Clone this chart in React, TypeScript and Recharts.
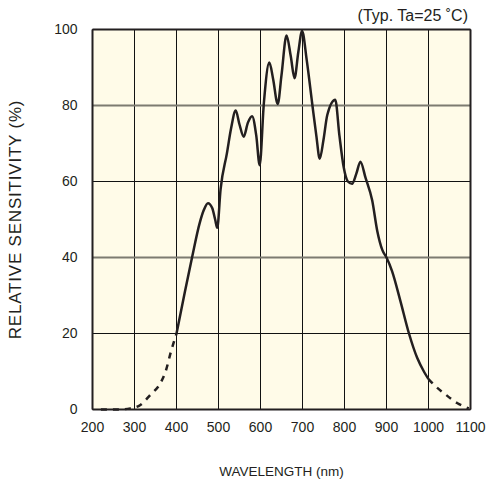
import { LineChart, Line, XAxis, YAxis, CartesianGrid, ReferenceLine } from 'recharts';

// wavelength (nm) and relative sensitivity (%)
const leftTailNm = [220, 260, 290, 314, 338, 362, 374, 387, 400];
const leftTailPct = [0, 0, 0.3, 1.2, 3.9, 7, 10, 15.3, 20];

const measuredNm = [
  400, 420, 437, 455, 465, 475, 485, 492, 497, 505, 520, 530, 541, 550, 560, 570, 580, 590, 598,
  608, 621, 630, 641, 650, 662, 672, 681, 690, 699, 710, 723, 733, 741, 750, 759, 778, 788, 798,
  808, 818, 828, 838, 850, 866, 878, 890, 900, 913, 933, 953, 973, 990, 1000,
];
const measuredPct = [
  20, 31, 40, 49, 52.5, 54.3, 53, 50, 47.8, 58, 67.4, 74, 78.7, 75, 71.8, 75.5, 77.2, 72, 64.3,
  80.6, 91.3, 87, 80.4, 88, 98.4, 93, 87.2, 94, 99.6, 92, 80.6, 72, 66, 71, 77.5, 81.5, 72, 63.8,
  60, 59.4, 62, 65.2, 61, 55, 47, 42, 40, 36.5, 28.6, 20.2, 13.6, 9.8, 8,
];

const rightTailNm = [1000, 1013, 1040, 1068, 1096];
const rightTailPct = [8, 6.5, 4, 1.7, 0.3];

const xTicks = [200, 300, 400, 500, 600, 700, 800, 900, 1000, 1100];
const yTicks = [0, 20, 40, 60, 80, 100];

type Row = { nm: number; solid?: number | null; dashed?: number | null };

const rows: Row[] = [];
leftTailNm.forEach((nm, i) => rows.push({ nm, dashed: leftTailPct[i], solid: null }));
measuredNm.forEach((nm, i) => {
  const existing = rows.find((r) => r.nm === nm);
  if (existing) existing.solid = measuredPct[i];
  else rows.push({ nm, solid: measuredPct[i], dashed: null });
});
rightTailNm.forEach((nm, i) => {
  const existing = rows.find((r) => r.nm === nm);
  if (existing) existing.dashed = rightTailPct[i];
  else rows.push({ nm, dashed: rightTailPct[i], solid: null });
});
rows.sort((a, b) => a.nm - b.nm);

const font = '"Liberation Sans", Arial, sans-serif';
const ink = '#231f20';
const tickStyle = { fill: ink, fontSize: 14, fontFamily: font };

export default function App() {
  return (
    <div style={{ position: 'absolute', left: 0, top: 0, width: 488, height: 479, background: '#fff' }}>
      <LineChart width={488} height={479} data={rows} margin={{ top: 29.5, right: 17.5, left: 0.5, bottom: 0 }}>
        <CartesianGrid stroke="#111" strokeWidth={1} fill="#fffbe8" fillOpacity={1} />
        <XAxis
          dataKey="nm"
          type="number"
          domain={[200, 1100]}
          ticks={xTicks}
          interval={0}
          tickLine={false}
          tickMargin={7}
          height={69.5}
          axisLine={{ stroke: ink, strokeWidth: 2 }}
          tick={tickStyle}
          label={{ value: 'WAVELENGTH (nm)', position: 'insideBottom', offset: 3, style: { fill: ink, fontSize: 13.5, fontFamily: font } }}
        />
        <YAxis
          type="number"
          domain={[0, 100]}
          ticks={yTicks}
          interval={0}
          width={92}
          tickLine={false}
          tickMargin={9}
          axisLine={{ stroke: ink, strokeWidth: 2 }}
          tick={tickStyle}
          label={{
            value: 'RELATIVE SENSITIVITY (%)',
            angle: -90,
            position: 'insideLeft',
            offset: 14,
            style: { textAnchor: 'middle', fill: ink, fontSize: 17, letterSpacing: 0.8, fontFamily: font },
          }}
        />
        <ReferenceLine y={40} stroke="#7d7b70" strokeWidth={2} />
        <ReferenceLine y={80} stroke="#7d7b70" strokeWidth={2} />
        <ReferenceLine y={100} stroke={ink} strokeWidth={2} />
        <ReferenceLine x={1100} stroke={ink} strokeWidth={2} />
        <Line
          type="monotone"
          dataKey="dashed"
          stroke={ink}
          strokeWidth={2.5}
          strokeDasharray="6 6"
          dot={false}
          connectNulls={false}
          isAnimationActive={false}
        />
        <Line
          type="monotone"
          dataKey="solid"
          stroke={ink}
          strokeWidth={2.5}
          dot={false}
          connectNulls={false}
          isAnimationActive={false}
        />
      </LineChart>
      <div
        style={{
          position: 'absolute',
          right: 20,
          top: 7,
          fontFamily: font,
          fontSize: 16,
          color: ink,
          whiteSpace: 'nowrap',
        }}
      >
        (Typ. Ta=25 ˚C)
      </div>
    </div>
  );
}
